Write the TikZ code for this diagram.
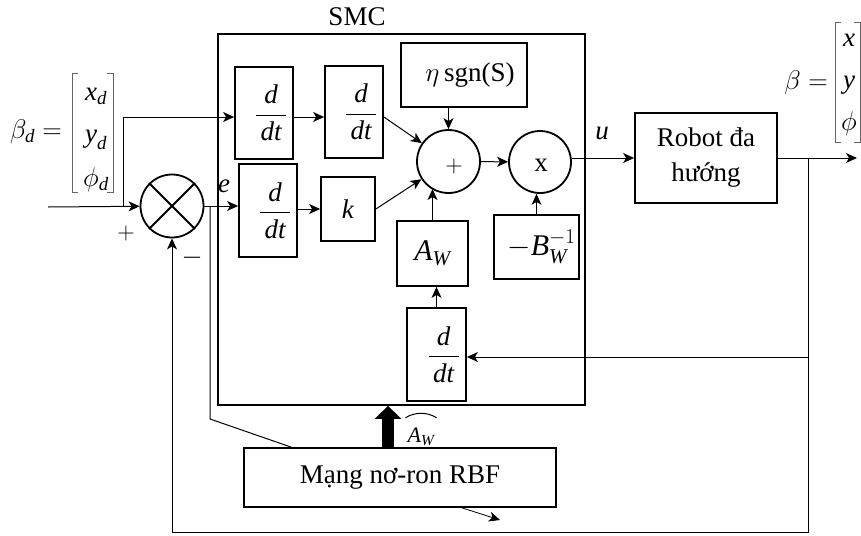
\RequirePackage{fix-cm}
\documentclass[tikz,border=0pt]{standalone}
\usepackage{amsmath}
\usepackage{fontspec}
\setmainfont{Liberation Serif}
\usetikzlibrary{arrows.meta,calc}
\newcommand{\ddt}{$\displaystyle\frac{\textit{d}}{\,\textit{dt}\,}$}
\begin{document}
\begin{tikzpicture}[x=1pt,y=-1pt,
  every node/.style={font=\fontsize{27}{32}\selectfont, inner sep=0pt},
  blk/.style={draw, line width=1.8pt, inner sep=0pt},
  ln/.style={line width=1pt},
  arr/.style={line width=1pt, -{Stealth[length=11pt,width=10pt,inset=3pt]}},
  circ/.style={draw, circle, line width=1.8pt, minimum size=63pt, inner sep=0pt},
  brk/.style={line width=1pt, black!60},
  big/.style={font=\fontsize{30}{34}\selectfont}
]
\useasboundingbox (0,0) rectangle (861,535);

% blocks
\node[blk, minimum width=367pt, minimum height=371pt] (smc) at (401.5,219.5) {};
\node (smclbl) at (357,17) {SMC};
\node[blk, minimum width=58pt, minimum height=92pt] (b1) at (264,113) {\hspace*{14pt}\ddt};
\node[blk, minimum width=58pt, minimum height=92pt] (b2) at (354,112) {\hspace*{14pt}\ddt};
\node[blk, minimum width=58pt, minimum height=93pt] (b3) at (268,210.5) {\hspace*{14pt}\ddt};
\node[blk, minimum width=54pt, minimum height=64pt] (k) at (348,209) {\textit{k}};
\node[blk, minimum width=126pt, minimum height=64pt] (eta) at (464,75) {\hspace*{12pt}$\eta$\,sgn(S)};
\node[circ] (plus) at (448.5,161.5) {};
\node[font=\fontsize{24}{28}\selectfont] (plustxt) at (454,166) {$+$};
\node[circ, minimum size=62pt] (xc) at (540,162) {};
\node (xtxt) at (541,165) {x};
\node[blk, big, minimum width=71pt, minimum height=65pt] (aw) at (432.5,253.5) {$\textit{A}_{\textit{W}}$};
\node[blk, big, minimum width=85pt, minimum height=64pt] (bw) at (536.5,247) {\hspace*{10pt}$-\textit{B}_{\textit{W}}^{-1}$};
\node[blk, minimum width=59pt, minimum height=93pt] (b4) at (436.5,354.5) {\hspace*{14pt}\ddt};
\node[blk, minimum width=142pt, minimum height=90pt, align=center, font=\fontsize{27}{35}\selectfont] (robot) at (706,158) {Robot đa\\hướng};
\node[blk, minimum width=312pt, minimum height=59pt] (rbf) at (400,477.5) {Mạng nơ-ron RBF};

% summing junction
\node[circ] (sum) at (172,206) {};
\draw[line width=1.8pt] (sum.north west) -- (sum.south east) (sum.north east) -- (sum.south west);

% labels
\node[font=\fontsize{24}{28}\selectfont] (plusl) at (126,233) {$+$};
\node (minusl) at (192,258) {$-$};
\node (el) at (224,186) {\textit{e}};
\node (ul) at (602,133) {\textit{u}};
\node[font=\fontsize{22}{24}\selectfont] (awh) at (421,437) {$\textit{A}_{\textit{W}}$};
\draw[ln] ($(awh.north west)+(-2,-10)$) .. controls ($(awh.north)+(-6,-16)$) and ($(awh.north)+(6,-16)$) .. ($(awh.north east)+(2,-10)$);

% reference matrix
\node (bdl) at (36,132) {$\beta_{\textit{d}}=$};
\node (mxd) at (96,96) {$\textit{x}_{\textit{d}}$};
\node (myd) at (96,140) {$\textit{y}_{\textit{d}}$};
\node (mpd) at (96,180) {$\phi_{\textit{d}}$};
\draw[brk] (78,73) -- (72,73) -- (72,192) -- (78,192);
\draw[brk] (107,73) -- (113,73) -- (113,192) -- (107,192);

% output matrix
\node (bl) at (806,83) {$\beta=$};
\node (mx) at (849,40) {\textit{x}};
\node (my) at (849,85) {\textit{y}};
\node (mp) at (849,124) {$\phi$};
\draw[brk] (841,23) -- (835,23) -- (835,142) -- (841,142);
\draw[brk] (854,23) -- (860,23) -- (860,142) -- (854,142);

% connectors
\coordinate (in) at (48,207);
\coordinate (bp) at (123,207);
\draw[arr] (in) -- (sum);
\draw[arr] (bp) |- ($(b1.west)+(0,4)$);
\draw[arr] ($(b1.east)+(0,4)$) -- ($(b2.west)+(0,5)$);
\draw[arr] ($(b2.east)+(0,5)$) -- (plus);
\draw[arr] (k.east) -- (plus);
\draw[arr] (plus |- eta.south) -- (plus.north);
\draw[arr] (aw.north) -- ($(aw.north |- plus.center)+(0,27.5)$);
\draw[arr] (plus) -- (xc);
\draw[arr] (bw.north) -- (bw.north |- xc.south);
\draw[arr] (xc.east |- robot.west) -- (robot.west);
\coordinate (out) at (857,158);
\draw[arr] (robot.east) -- (out);
\coordinate (br) at (808,158);
\coordinate (bot) at (808,532);
\draw[arr] (br) -- (bot) -| (sum.south);
\coordinate (fb4) at (808,357);
\draw[arr] (fb4) -- (fb4 -| b4.east);
\draw[arr] (b4.north) -- (b4.north |- aw.south);
\draw[arr] (sum.east) -- (sum.east -| b3.west);
\draw[arr] (b3.east |- k.west) -- (k.west);
\coordinate (eb) at (210,206);
\coordinate (ec) at (210,419);
\draw[ln] (eb) -- (ec) -- ($(rbf.north west)+(48,0)$);
\coordinate (ta) at ($(rbf.north)+(-12,0)$);
\draw[line width=12pt, -{Triangle[length=13pt,width=26pt]}] (ta) -- (ta |- smc.south);
\coordinate (sa) at (500,520);
\draw[arr, line width=0.8pt] ($(rbf.south west)+(219,0)$) -- (sa);
\end{tikzpicture}
\end{document}
